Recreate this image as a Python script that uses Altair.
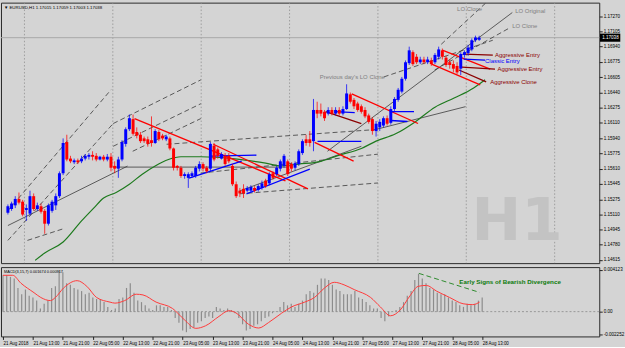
import altair as alt
import pandas as pd

# ---------------- data ----------------
opens = [1.1513, 1.1517, 1.1521, 1.1528, 1.1525, 1.1516, 1.1512, 1.1531, 1.1517, 1.1520,
         1.1515, 1.1501, 1.1515, 1.1521, 1.1531, 1.1556, 1.1590, 1.1572, 1.1568, 1.1570,
         1.1569, 1.1572, 1.1574, 1.1576, 1.1575, 1.1571, 1.1574, 1.1571, 1.1574, 1.1564,
         1.1561, 1.1571, 1.1588, 1.1604, 1.1615, 1.1601, 1.1598, 1.1594, 1.1593, 1.1592,
         1.1589, 1.1601, 1.1597, 1.1593, 1.1594, 1.1583, 1.1564, 1.1562, 1.1553, 1.1551,
         1.1553, 1.1553, 1.1561, 1.1566, 1.1562, 1.1561, 1.1586, 1.1582, 1.1572, 1.1575,
         1.1575, 1.1564, 1.1544, 1.1537, 1.1539, 1.1537, 1.1537, 1.1540, 1.1538, 1.1540,
         1.1548, 1.1545, 1.1556, 1.1555, 1.1561, 1.1564, 1.1569, 1.1566, 1.1562, 1.1566,
         1.1578, 1.1593, 1.1593, 1.1591, 1.1625, 1.1625, 1.1623, 1.1621, 1.1625, 1.1621,
         1.1625, 1.1621, 1.1626, 1.1642, 1.1636, 1.1632, 1.1629, 1.1625, 1.1619, 1.1615,
         1.1602, 1.1606, 1.1608, 1.1616, 1.1611, 1.1626, 1.1636, 1.1645, 1.1659, 1.1676,
         1.1688, 1.1683, 1.1677, 1.1680, 1.1677, 1.1679, 1.1677, 1.1683, 1.1690, 1.1682,
         1.1677, 1.1675, 1.1673, 1.1670, 1.1685, 1.1687, 1.1691, 1.1701, 1.17015]
closes = [1.1520, 1.1523, 1.1528, 1.1524, 1.1511, 1.1518, 1.1531, 1.1517, 1.1521, 1.1514,
          1.1501, 1.1521, 1.1525, 1.1531, 1.1556, 1.1589, 1.1571, 1.1569, 1.1570, 1.1568,
          1.1572, 1.1575, 1.1576, 1.1574, 1.1571, 1.1574, 1.1571, 1.1574, 1.1562, 1.1561,
          1.1571, 1.1590, 1.1604, 1.1616, 1.1599, 1.1597, 1.1591, 1.1591, 1.1588, 1.1589,
          1.1602, 1.1593, 1.1594, 1.1596, 1.1583, 1.1562, 1.1562, 1.1553, 1.1555, 1.1555,
          1.1556, 1.1562, 1.1566, 1.1561, 1.1558, 1.1588, 1.1571, 1.1575, 1.1577, 1.1566,
          1.1569, 1.1544, 1.1531, 1.1534, 1.1534, 1.1540, 1.1541, 1.1537, 1.1542, 1.1545,
          1.1542, 1.1555, 1.1551, 1.1562, 1.1569, 1.1575, 1.1555, 1.1561, 1.1567, 1.1580,
          1.1591, 1.1589, 1.1589, 1.1625, 1.1621, 1.1621, 1.1616, 1.1625, 1.1621, 1.1625,
          1.1621, 1.1626, 1.1643, 1.1634, 1.1629, 1.1625, 1.1623, 1.1618, 1.1612, 1.1602,
          1.1610, 1.1612, 1.1616, 1.1610, 1.1626, 1.1637, 1.1647, 1.1659, 1.1677, 1.1690,
          1.1675, 1.1677, 1.1680, 1.1677, 1.1680, 1.1675, 1.1685, 1.1691, 1.1683, 1.1674,
          1.1674, 1.1670, 1.1666, 1.1686, 1.1688, 1.1693, 1.1701, 1.1704, 1.17038]
highs = [1.1522, 1.1525, 1.1531, 1.1535, 1.1527, 1.1522, 1.1537, 1.1534, 1.1524, 1.1523,
         1.1517, 1.1523, 1.1527, 1.1534, 1.1558, 1.1594, 1.1598, 1.1575, 1.1572, 1.1572,
         1.1575, 1.1577, 1.1578, 1.1580, 1.1578, 1.1575, 1.1576, 1.1577, 1.1578, 1.1569,
         1.1574, 1.1592, 1.1606, 1.1620, 1.1620, 1.1606, 1.1601, 1.1596, 1.1596, 1.1618,
         1.1604, 1.1603, 1.1599, 1.1598, 1.1596, 1.1584, 1.1565, 1.1564, 1.1557, 1.1557,
         1.1558, 1.1564, 1.1569, 1.1568, 1.1564, 1.1590, 1.1589, 1.1584, 1.1579, 1.1578,
         1.1578, 1.1566, 1.1547, 1.1540, 1.1544, 1.1542, 1.1543, 1.1542, 1.1544, 1.1548,
         1.1550, 1.1557, 1.1558, 1.1564, 1.1571, 1.1577, 1.1571, 1.1568, 1.1569, 1.1582,
         1.1593, 1.1598, 1.1602, 1.1637, 1.1634, 1.1632, 1.1625, 1.1628, 1.1628, 1.1628,
         1.1628, 1.1629, 1.1653, 1.1644, 1.1638, 1.1634, 1.1631, 1.1628, 1.1621, 1.1617,
         1.1613, 1.1615, 1.1618, 1.1619, 1.1629, 1.1639, 1.1649, 1.1661, 1.1679, 1.1694,
         1.1690, 1.1686, 1.1683, 1.1683, 1.1683, 1.1682, 1.1687, 1.1694, 1.1692, 1.1684,
         1.1680, 1.1679, 1.1677, 1.1688, 1.1690, 1.1696, 1.1703, 1.1706, 1.17059]
lows = [1.1511, 1.1515, 1.1518, 1.1522, 1.1509, 1.1504, 1.1510, 1.1515, 1.1515, 1.1512,
        1.1490, 1.1499, 1.1513, 1.1516, 1.1529, 1.1554, 1.1569, 1.1567, 1.1566, 1.1566,
        1.1567, 1.1570, 1.1571, 1.1570, 1.1569, 1.1570, 1.1569, 1.1569, 1.1558, 1.1556,
        1.1551, 1.1569, 1.1585, 1.1602, 1.1597, 1.1594, 1.1589, 1.1589, 1.1585, 1.1585,
        1.1588, 1.1591, 1.1592, 1.1591, 1.1581, 1.1559, 1.1559, 1.1551, 1.1550, 1.1540,
        1.1551, 1.1551, 1.1558, 1.1558, 1.1556, 1.1558, 1.1569, 1.1572, 1.1571, 1.1564,
        1.1567, 1.1542, 1.1529, 1.1530, 1.1529, 1.1535, 1.1535, 1.1535, 1.1536, 1.1538,
        1.1540, 1.1543, 1.1549, 1.1553, 1.1558, 1.1562, 1.1553, 1.1558, 1.1559, 1.1564,
        1.1576, 1.1586, 1.1585, 1.1580, 1.1616, 1.1618, 1.1613, 1.1619, 1.1619, 1.1619,
        1.1619, 1.1619, 1.1625, 1.1632, 1.1626, 1.1623, 1.1621, 1.1616, 1.1610, 1.1598,
        1.1596, 1.1602, 1.1606, 1.1608, 1.1609, 1.1624, 1.1634, 1.1643, 1.1657, 1.1674,
        1.1673, 1.1675, 1.1675, 1.1675, 1.1675, 1.1673, 1.1675, 1.1680, 1.1680, 1.1672,
        1.1670, 1.1666, 1.1664, 1.1663, 1.1682, 1.1684, 1.1689, 1.1699, 1.17003]

# green moving average (bar index, price)
ma_bar = [7.4, 10, 15, 20, 23.3, 26, 29.4, 33, 36.5, 40, 43.6, 47, 52.4, 61, 70, 74.3,
          79, 85, 89.4, 96, 100, 105.3, 110.6, 116, 121.2, 126.5, 129.6]
ma_price = [1.1461, 1.1469, 1.1481, 1.1504, 1.1518, 1.1529, 1.1535, 1.1544, 1.1555, 1.1564,
            1.1571, 1.1574, 1.1574, 1.1572, 1.1567, 1.1564, 1.1566, 1.1569, 1.1575, 1.1583,
            1.1591, 1.1599, 1.1612, 1.1628, 1.1638, 1.1649, 1.1658]

# MACD(3,15,7) histogram, one value per bar
macd_hist = [.00359, .00359, .00343, .00328, .00234, .00172, .00218, .00156, .00140, .00109,
             .00031, .00078, .00109, .00234, .00250, .00406, .00390, .00281, .00265, .00234,
             .00218, .00203, .00172, .00187, .00140, .00125, .00125, .00094, .00047, .00016,
             .00031, .00125, .00140, .00234, .00281, .00187, .00109, .00094, .00062, .00031,
             .00016, .00062, .00062, .00047, .00047, .00016, -.00062, -.00109, -.00187, -.00203,
             -.00172, -.00156, -.00109, -.00094, -.00062, -.00047, -.00062, .00047, .00031, .00016,
             .00031, .00016, -.00016, -.00062, -.00125,
             -.00187, -.00172, -.00140, -.00125, -.00094, -.00062, -.00047, -.00016, .00005,
             .00047, .00094, .00062, .00078, .00047, .00078, .00109, .00172, .00203, .00187,
             .00265, .00328, .00328, .00312, .00265, .00218, .00203, .00172, .00172, .00172,
             .00203, .00140, .00125, .00094, .00062, .00031, .00031, -.00062, -.00094, -.00047,
             .00000, .00016, .00047, .00094, .00156, .00203, .00312, .00374, .00328, .00281,
             .00234, .00218, .00187, .00172, .00172, .00140, .00109, .00094, .00062, .00047,
             .00078, .00062, .00078, .00109, .00140]
sig_bar = [0, 2.6, 4.8, 8.3, 10.1, 12.7, 14, 16.2, 19.8, 22.4, 25, 28.6, 29.9, 32.5, 35.6,
           37.4, 40.9, 45.3, 48.4, 51.5, 54.1, 57.7, 60.3, 62.1, 65.6, 68.3, 70.9, 74.4,
           77.1, 80.6, 83.2, 85.9, 88.5, 91.1, 93.8, 98.2, 100.8, 103.5, 106.1, 108.7,
           110.9, 113.1, 115.8, 119.3, 122.9, 125.5, 127.3]
sig_val = [.00359, .00359, .00281, .00187, .00140, .00109, .00140, .00234, .00306, .00250,
           .00140, .00094, .00084, .00109, .00172, .00165, .00094, .00031, -.00078, -.00165,
           -.00140, -.00047, .00009, -.00009, -.00125, -.00162, -.00109, -.00016, .00047,
           .00094, .00140, .00234, .00290, .00265, .00218, .00140, .00047, -.00041, .00016,
           .00156, .00250, .00259, .00203, .00140, .00078, .00069, .00094]

time_labels = ["21 Aug 2018", "21 Aug 13:00", "21 Aug 21:00", "22 Aug 05:00", "22 Aug 13:00",
               "22 Aug 21:00", "23 Aug 05:00", "23 Aug 13:00", "23 Aug 21:00", "24 Aug 05:00",
               "24 Aug 13:00", "24 Aug 21:00", "27 Aug 05:00", "27 Aug 13:00", "27 Aug 21:00",
               "28 Aug 05:00", "28 Aug 13:00"]
price_ticks = [1.17270, 1.17105, 1.16940, 1.16775, 1.16605, 1.16440, 1.16275, 1.16110,
               1.15940, 1.15775, 1.15610, 1.15445, 1.15275, 1.15110, 1.14945, 1.14780, 1.14615]
macd_ticks = [0.004123, 0.0, -0.002252]
grid_bars = [4.5, 28.5, 52.5, 76.5, 100.5, 124.5, 148.5]
bid_price = 1.17038

# drawn objects: (bar1, price1, bar2, price2)
seg_dashed = [(0.0, 1.15152, 28.0, 1.16470), (0.0, 1.14828, 28.6, 1.16102),
              (5.3, 1.14828, 15.3, 1.14958), (28.6, 1.16102, 52.4, 1.16578),
              (28.6, 1.15854, 52.4, 1.16318), (33.9, 1.15800, 52.4, 1.16156),
              (43.1, 1.15876, 100.5, 1.16038), (52.4, 1.15562, 100.5, 1.15768),
              (63.0, 1.15336, 100.5, 1.15454), (102.1, 1.16610, 131.7, 1.17010),
              (117.7, 1.16966, 129.9, 1.17420), (115.9, 1.16686, 136.5, 1.17150)]
seg_thin = [(0.0, 1.14990, 32.5, 1.15638), (28.6, 1.15627, 76.2, 1.15627),
            (86.8, 1.15800, 137.0, 1.17312), (100.0, 1.16038, 124.3, 1.16286),
            (63.0, 1.15368, 96.0, 1.15854)]
seg_red = [(34.4, 1.16156, 75.4, 1.15476), (55.8, 1.15876, 81.5, 1.15390),
           (93.4, 1.16426, 111.4, 1.16102), (83.3, 1.15897, 93.9, 1.15692),
           (118.0, 1.16902, 131.0, 1.16696), (115.1, 1.16750, 128.3, 1.16524)]
seg_maroon = [(123.8, 1.16858, 131.7, 1.16848), (123.3, 1.16718, 132.3, 1.16696),
              (122.5, 1.16686, 129.9, 1.16556), (86.3, 1.16232, 96.0, 1.16102)]
seg_blue = [(49.2, 1.15508, 63.5, 1.15692), (55.0, 1.15746, 67.5, 1.15757),
            (64.8, 1.15336, 82.0, 1.15606), (84.1, 1.15908, 96.0, 1.15908),
            (88.9, 1.16232, 94.2, 1.16221), (104.0, 1.16232, 110.3, 1.16232),
            (104.0, 1.16135, 108.5, 1.16124), (123.8, 1.16804, 129.6, 1.16794)]
seg_macd_div = [(111.1, 0.00378, 127.3, 0.00190)]

labels_gray = [(122.0, 1.17355, "LO Clone"), (137.8, 1.17334, "LO Original"),
               (137.0, 1.17161, "LO Clone"), (84.7, 1.16610, "Previous day's LO Clone")]
labels_maroon = [(132.3, 1.16848, "Aggressive Entry"), (133.0, 1.16696, "Aggressive Entry"),
                 (131.0, 1.16556, "Aggressive Clone")]
labels_blue = [(129.6, 1.16783, "Classic Entry")]
label_div = [(121.9, 0.00295, "Early Signs of Bearish Divergence")]

# ---------------- chart ----------------
XDOM = [-0.53, 159.27]
YDOM = [1.1458, 1.1742]
MDOM = [-0.00245, 0.00440]
W, H, HM = 604, 263, 70
BG = "#d4d4d4"
FONT = "Liberation Sans"

xs = alt.Scale(domain=XDOM, nice=False, zero=False)
ys = alt.Scale(domain=YDOM, nice=False, zero=False)
ms = alt.Scale(domain=MDOM, nice=False, zero=False)

yaxis = alt.Axis(orient="right", values=price_ticks, format=".5f", title=None,
                 labelFontSize=4.6, tickSize=3, labelPadding=1, grid=False, domain=False,
                 labelOverlap=False, labelFlush=False, tickColor="#222")
xaxis = alt.Axis(values=[8 * k for k in range(len(time_labels))],
                 labelExpr="[" + ",".join("'%s'" % t for t in time_labels) + "][round(datum.value/8)]",
                 labelAlign="left", labelFontSize=4.5, tickSize=3, labelPadding=1,
                 domain=False, grid=False, title=None, labelOverlap=False, labelFlush=False,
                 tickColor="#222")
maxis = alt.Axis(orient="right", values=macd_ticks,
                 labelExpr="datum.value == 0 ? '0.00' : (datum.value > 0 ? '0.004123' : '-0.002252')",
                 title=None, labelFontSize=4.6, tickSize=3, labelPadding=1, grid=False,
                 domain=False, labelOverlap=False, labelFlush=False, tickColor="#222")


def XM(f):
    return alt.X(f, scale=xs, axis=None)


def YM(f):
    return alt.Y(f, scale=ys, axis=yaxis)


def XB(f):
    return alt.X(f, scale=xs, axis=xaxis)


def YB(f):
    return alt.Y(f, scale=ms, axis=maxis)


n = len(opens)
candles = pd.DataFrame({"bar": list(range(n)), "open": opens, "high": highs,
                        "low": lows, "close": closes})
candles["dir"] = ["up" if c >= o else "down" for o, c in zip(opens, closes)]


def segs(rows):
    return pd.DataFrame(rows, columns=["b1", "p1", "b2", "p2"])


def seg_layer(rows, color, width, dash=None, X=XM, Y=YM):
    kw = dict(color=color, strokeWidth=width, clip=True)
    if dash:
        kw["strokeDash"] = dash
    return alt.Chart(segs(rows)).mark_rule(**kw).encode(
        x=X("b1:Q"), x2="b2:Q", y=Y("p1:Q"), y2="p2:Q")


def text_layer(rows, color, size, bold=False, X=XM, Y=YM):
    df = pd.DataFrame(rows, columns=["b", "p", "t"])
    return alt.Chart(df).mark_text(align="left", baseline="middle", color=color,
                                   fontSize=size, font=FONT,
                                   fontWeight="bold" if bold else "normal").encode(
        x=X("b:Q"), y=Y("p:Q"), text="t:N")


grid = alt.Chart(pd.DataFrame({"g": grid_bars})).mark_rule(
    color="#8f8f8f", strokeDash=[1.5, 2], strokeWidth=0.8).encode(x=XM("g:Q"))

bid = alt.Chart(pd.DataFrame({"p": [bid_price]})).mark_rule(
    color="#a8a8a8", strokeWidth=1).encode(y=YM("p:Q"))

watermark = alt.Chart(pd.DataFrame({"t": ["H1"]})).mark_text(
    fontSize=60, fontWeight="bold", font="DejaVu Sans", color="#c3c3c3",
    align="center", baseline="alphabetic").encode(
    x=alt.value(521), y=alt.value(240), text="t:N")

ma = alt.Chart(pd.DataFrame({"b": ma_bar, "p": ma_price})).mark_line(
    color="#1d7a1d", strokeWidth=1.2, interpolate="monotone", clip=True).encode(
    x=XM("b:Q"), y=YM("p:Q"))

dir_col = alt.Color("dir:N", scale=alt.Scale(domain=["up", "down"], range=["#0000ff", "#ff0000"]),
                    legend=None)
wicks = alt.Chart(candles).mark_rule(strokeWidth=1, opacity=0.75).encode(
    x=XM("bar:Q"), y=YM("low:Q"), y2="high:Q", color=dir_col)
bodies = alt.Chart(candles).mark_bar(size=3).encode(
    x=XM("bar:Q"), y=YM("open:Q"), y2="close:Q", color=dir_col)

title = alt.Chart(pd.DataFrame({"t": ["\u25bc EURUSD,H1  1.17015 1.17059 1.17003 1.17038"]})).mark_text(
    align="left", baseline="middle", fontSize=4.4, font=FONT, color="#000").encode(
    x=alt.value(3), y=alt.value(5), text="t:N")

bid_box = alt.Chart(pd.DataFrame({"p": [bid_price]})).mark_point(
    shape="M-1,-0.4L1,-0.4L1,0.4L-1,0.4Z", filled=True, color="#000", size=420,
    opacity=1, clip=False).encode(x=alt.value(615), y=YM("p:Q"))
bid_txt = alt.Chart(pd.DataFrame({"p": [bid_price], "t": ["1.17038"]})).mark_text(
    align="left", baseline="middle", fontSize=4.6, font=FONT, color="#fff").encode(
    x=alt.value(607), y=YM("p:Q"), text="t:N")

main = alt.layer(
    grid, bid, watermark,
    seg_layer(seg_dashed, "#4a4a4a", 0.9, [5, 3]),
    seg_layer(seg_thin, "#3a3a3a", 0.8),
    ma,
    seg_layer(seg_red, "#ff0000", 1.3),
    seg_layer(seg_maroon, "#8b0000", 1.3),
    seg_layer(seg_blue, "#0000ff", 1.3),
    wicks, bodies,
    text_layer(labels_gray, "#808080", 6),
    text_layer(labels_maroon, "#8b0000", 6),
    text_layer(labels_blue, "#0000ff", 6),
    title, bid_box, bid_txt,
).properties(width=W, height=H)

# ---------------- MACD panel ----------------
mdf = pd.DataFrame({"bar": list(range(len(macd_hist))), "v": macd_hist})
mdf["zero"] = 0.0

hist = alt.Chart(mdf).mark_rule(color="#8c8c8c", strokeWidth=1.2).encode(
    x=XB("bar:Q"), y=YB("zero:Q"), y2="v:Q")
zero = alt.Chart(pd.DataFrame({"z": [0.0]})).mark_rule(
    color="#888", strokeDash=[2, 2], strokeWidth=0.8).encode(y=YB("z:Q"))
sig = alt.Chart(pd.DataFrame({"b": sig_bar, "v": sig_val})).mark_line(
    color="#ff3a3a", strokeWidth=1, interpolate="monotone").encode(
    x=XB("b:Q"), y=YB("v:Q"))
macd_title = alt.Chart(pd.DataFrame({"t": ["MACD(3,15,7) 0.001674 0.000917"]})).mark_text(
    align="left", baseline="middle", fontSize=3.9, font=FONT, color="#000").encode(
    x=alt.value(3), y=alt.value(5), text="t:N")

macd = alt.layer(
    zero, hist, sig,
    seg_layer(seg_macd_div, "#2e8b2e", 1, [5, 3], X=XB, Y=YB),
    text_layer(label_div, "#0b7a0b", 6.3, bold=True, X=XB, Y=YB),
    macd_title,
).properties(width=W, height=HM)

chart = alt.vconcat(main, macd, spacing=2).properties(
    padding={"left": 0, "top": 0, "right": 0, "bottom": 0}, background=BG
).configure_view(stroke="#2a2a2a", strokeWidth=1, fill=BG).configure_axis(
    labelFont=FONT, labelColor="#000")

chart.save("out.html", embed_options={"renderer": "svg", "actions": False})
